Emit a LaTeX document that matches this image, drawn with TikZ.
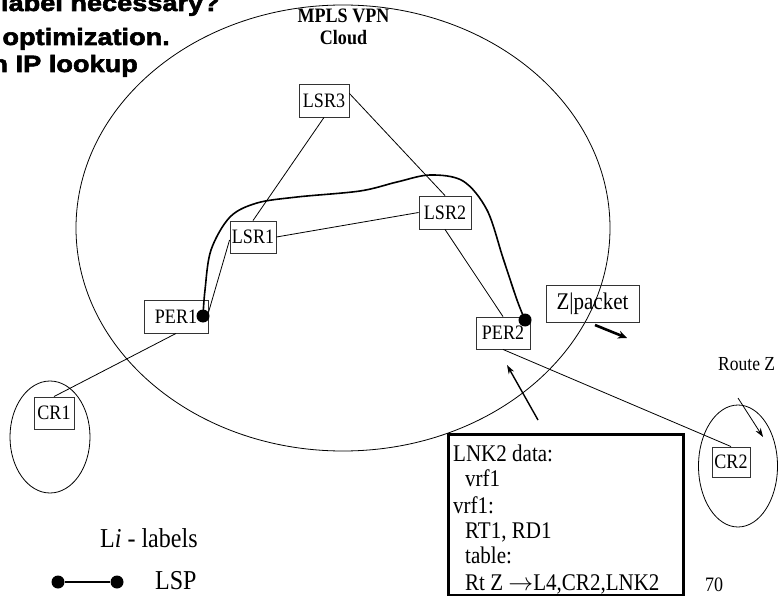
\documentclass[tikz,border=0pt]{standalone}
\usepackage{fontspec}
\setmainfont{Liberation Serif}[FakeStretch=0.88]
\newfontfamily\headfont[FakeBold=2.5,FakeStretch=1.15]{Liberation Sans Bold}
\usetikzlibrary{arrows.meta,calc,shapes.geometric}
\begin{document}
\begin{tikzpicture}[x=1pt,y=-1pt,
  router/.style={draw=black!80,line width=0.9pt,inner sep=0pt,
    font=\fontsize{20.5}{22}\selectfont},
  region/.style={draw,ellipse,line width=0.8pt,inner sep=0pt},
  link/.style={line width=0.8pt},
  lsp/.style={line width=1.6pt},
  lspdot/.style={circle,fill=black,inner sep=0pt,minimum size=13pt},
  head/.style={font=\headfont\fontsize{23.6}{26}\selectfont,inner sep=0pt,anchor=base east},
  cloudtxt/.style={font=\bfseries\fontsize{20.5}{22}\selectfont,inner sep=0pt,anchor=base},
  info/.style={font=\fontsize{23.9}{26}\selectfont,inner sep=0pt,anchor=base west},
  legend/.style={font=\fontsize{27.3}{30}\selectfont,inner sep=0pt,anchor=base west},
  tip/.style={-{Stealth[length=9pt,width=6pt]}}]
\useasboundingbox (0,0) rectangle (779,596);

% heading lines running in from the left
\node[head] (h1) at (220,11) {label necessary?};
\node[head] (h2) at (170,45) {optimization.};
\node[head] (h3) at (138,72) {n IP lookup};

% provider cloud and the two customer sites
\node[region,minimum width=534pt,minimum height=446pt] (cloud) at (343,228) {};
\node[region,minimum width=80pt,minimum height=112pt] (site1) at (50,437) {};
\node[region,minimum width=79pt,minimum height=122pt] (site2) at (738,466) {};

\node[cloudtxt] (cloudA) at (343.5,23) {MPLS VPN};
\node[cloudtxt] (cloudB) at (343.5,45) {Cloud};

% routers
\node[router,minimum width=50pt,minimum height=33pt] (LSR3) at (324,100.5) {LSR3};
\node[router,minimum width=46pt,minimum height=32pt] (LSR1) at (253,237) {LSR1};
\node[router,minimum width=52pt,minimum height=33pt] (LSR2) at (445,212.5) {LSR2};
\node[router,minimum width=64pt,minimum height=33pt] (PER1) at (176,316.5) {PER1};
\node[router,minimum width=54pt,minimum height=32pt] (PER2) at (503,333) {PER2};
\node[router,minimum width=40pt,minimum height=32pt] (CR1) at (54,413) {CR1};
\node[router,minimum width=38pt,minimum height=30pt] (CR2) at (731,462) {CR2};

% physical links
\draw[link] (LSR3.south) -- (LSR1.north);
\draw[link] ($(LSR3.east)+(0,-7)$) -- (LSR2.north);
\draw[link] (LSR1.east) -- (LSR2.west);
\draw[link] (LSR2.south) -- (PER2.north);
\draw[link] ($(PER1.east)+(0,-4)$) -- ($(LSR1.west)+(0,3)$);
\draw[link] (PER1.south) -- (CR1.north);
\draw[link] (PER2.south) -- (CR2.north);

% label switched path PER1 -> PER2
\node[lspdot] (d1) at (203,316) {};
\node[lspdot] (d2) at (525,320) {};
\draw[lsp] plot[smooth,tension=0.55] coordinates {
  (203,316) (205,290) (211,250) (230,217) (257,203) (297,197)
  (360,191) (397,182) (430,175) (463,181) (487,210) (503,258)
  (517,300) (525,320)};

% packet entering the provider edge
\node[router,minimum width=93pt,minimum height=37pt,font=\fontsize{23.9}{26}\selectfont]
  (zpkt) at (592.5,303.5) {Z|packet};
\coordinate (pktA) at (595,325);
\coordinate (pktB) at (627,338);
\draw[line width=2.6pt,-{Stealth[length=9pt,width=8pt]}] (pktA) -- (pktB);

% route advertised by CR2
\node[font=\fontsize{19.9}{22}\selectfont,inner sep=0pt,anchor=base west] (routez) at (718,370) {Route Z};
\coordinate (rzA) at (738,398);
\coordinate (rzB) at (763,437);
\draw[link,tip] (rzA) -- (rzB);

% per-link data held at PER2
\node[draw,line width=3pt,minimum width=235pt,minimum height=161pt,inner sep=0pt] (lnk) at (565.5,514.5) {};
\node[info] (t1) at (453,461) {LNK2 data:};
\node[info] (t2) at (465,486) {vrf1};
\node[info] (t3) at (453,513) {vrf1:};
\node[info] (t4) at (465,538) {RT1, RD1};
\node[info] (t5) at (465,563) {table:};
\node[info] (t6) at (465,590) {Rt Z $\rightarrow$L4,CR2,LNK2};
\coordinate (infoA) at (538,420);
\coordinate (infoB) at (507,365);
\draw[line width=1.4pt,tip] (infoA) -- (infoB);

\node[font=\fontsize{20.5}{22}\selectfont,inner sep=0pt,anchor=base west] (pg) at (705,591) {70};

% legend
\node[legend] (lg1) at (100,547) {L\textit{i} - labels};
\node[lspdot] (lgA) at (58,582) {};
\node[lspdot] (lgB) at (117,582) {};
\draw[line width=1.4pt] (lgA) -- (lgB);
\node[legend] (lg2) at (155,589) {LSP};
\end{tikzpicture}
\end{document}
